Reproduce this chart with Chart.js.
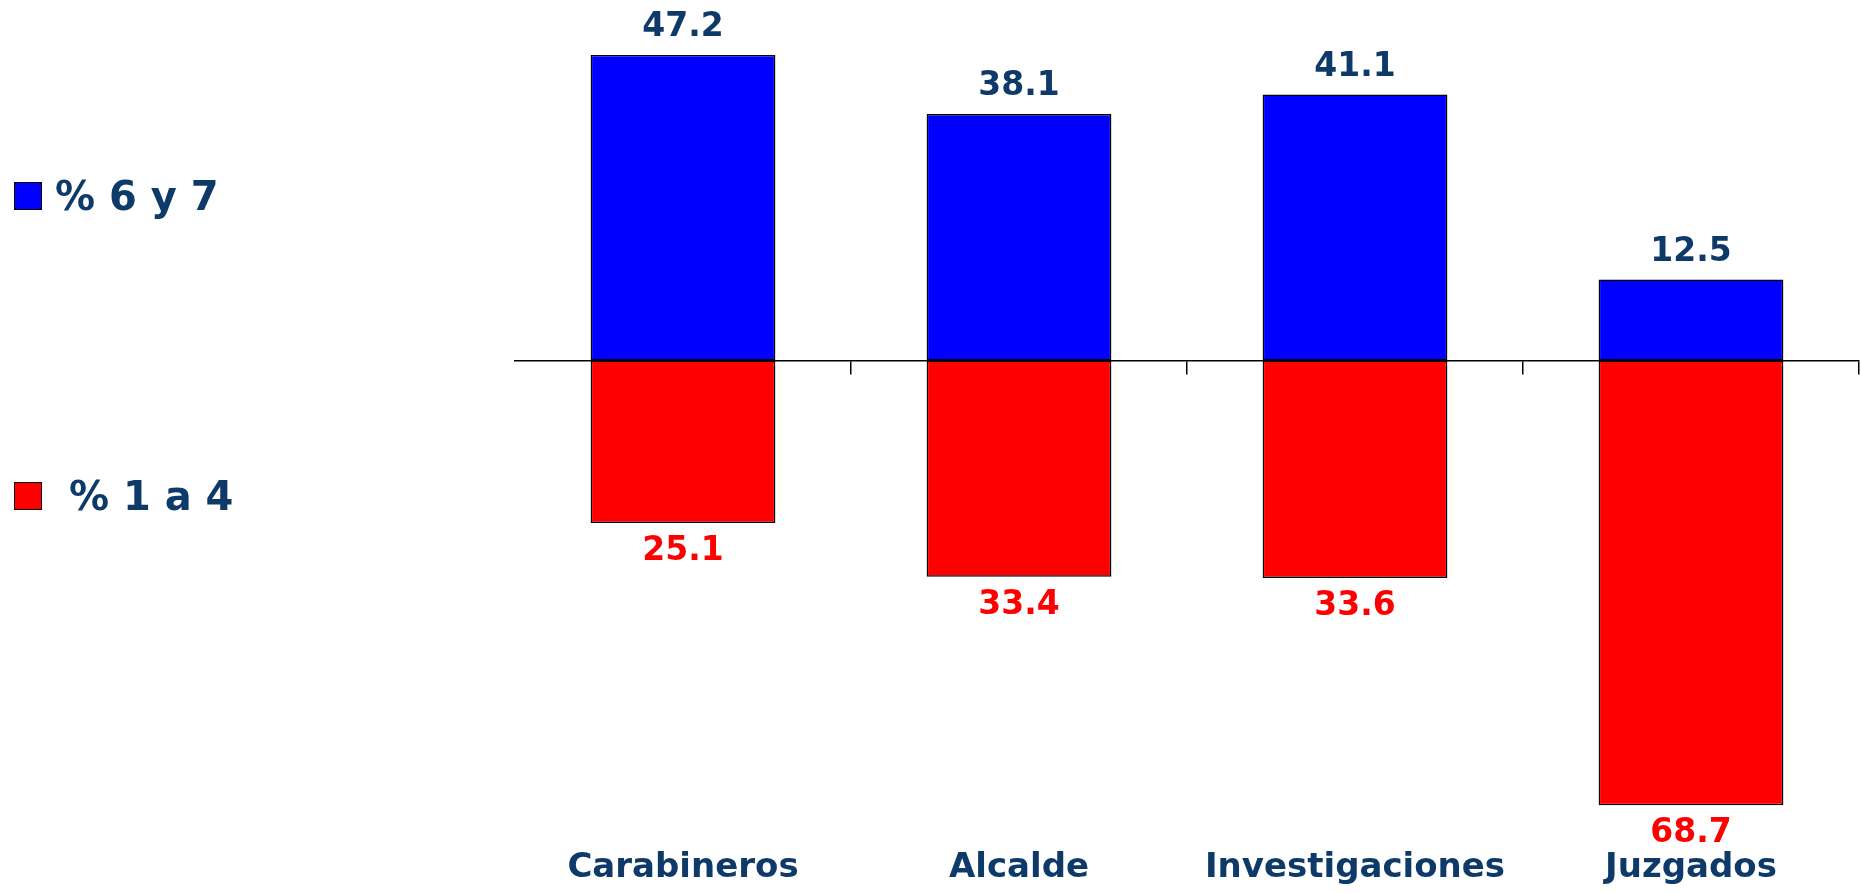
<!DOCTYPE html>
<html>
<head>
<meta charset="utf-8">
<script src="https://cdn.jsdelivr.net/npm/chart.js@4/dist/chart.umd.min.js"></script>
<style>
  html, body { margin: 0; padding: 0; background: #fff; }
  #wrap { position: relative; width: 1861px; height: 893px; }
  #legend { position: absolute; left: 14px; top: 0; font-family: "DejaVu Sans", sans-serif; font-weight: bold; font-size: 40px; color: #0e3a6a; }
  .item { position: absolute; left: 0; display: flex; align-items: center; white-space: pre; }
  .box { width: 26px; height: 26px; border: 1.5px solid #000; margin-right: 13px; }
</style>
</head>
<body>
<div id="wrap">
  <canvas id="barChart" width="1861" height="893"></canvas>
  <div id="legend"></div>
</div>
<script>
const categories = ["Carabineros", "Alcalde", "Investigaciones", "Juzgados"];
const highValues = [47.2, 38.1, 41.1, 12.5];   // % 6 y 7
const lowValues = [25.1, 33.4, 33.6, 68.7];    // % 1 a 4
const seriesLabels = ["% 6 y 7", " % 1 a 4"];
const seriesColors = ["#0000ff", "#ff0000"];
const labelColors = ["#0e3a6a", "#ff0000"];

const navy = "#0e3a6a";
const font = "DejaVu Sans";

// value labels above blue bars and below red bars
const valueLabels = {
  id: "valueLabels",
  afterDatasetsDraw(chart) {
    const ctx = chart.ctx;
    ctx.save();
    ctx.font = `bold 33px "${font}"`;
    ctx.textAlign = "center";
    chart.data.datasets.forEach((ds, i) => {
      const meta = chart.getDatasetMeta(i);
      meta.data.forEach((bar, j) => {
        const v = Math.abs(ds.data[j]).toFixed(1);
        ctx.fillStyle = labelColors[i];
        if (ds.data[j] >= 0) {
          ctx.textBaseline = "bottom";
          ctx.fillText(v, bar.x, bar.y - 11);
        } else {
          ctx.textBaseline = "top";
          ctx.fillText(v, bar.x, bar.y + 12);
        }
      });
    });
    ctx.restore();
  }
};

const ctx = document.getElementById("barChart").getContext("2d");
new Chart(ctx, {
  type: "bar",
  data: {
    labels: categories,
    datasets: [
      {
        label: seriesLabels[0],
        data: highValues,
        backgroundColor: seriesColors[0],
        borderColor: "#000",
        borderWidth: 1.5,
        borderSkipped: false,
      },
      {
        label: seriesLabels[1],
        data: lowValues.map(v => -v),
        backgroundColor: seriesColors[1],
        borderColor: "#000",
        borderWidth: 1.5,
        borderSkipped: false,
      },
    ],
  },
  options: {
    responsive: false,
    animation: false,
    layout: { padding: { top: 0, right: 2, bottom: 0, left: 0 } },
    datasets: { bar: { barPercentage: 0.55, categoryPercentage: 1 } },
    plugins: {
      legend: { display: false },
      tooltip: { enabled: false },
    },
    scales: {
      x: {
        stacked: true,
        position: { y: 0 },
        ticks: { display: false },
        grid: {
          drawOnChartArea: false,
          tickLength: 13,
          lineWidth: 1.5,
          color: c => (c.index === 0 ? "rgba(0,0,0,0)" : "#000"),
        },
        border: { color: "#000", width: 1.5 },
      },
      x2: {
        type: "category",
        labels: categories,
        position: "bottom",
        offset: true,
        grid: { display: false },
        border: { display: false },
        ticks: { color: navy, font: { family: font, weight: "bold", size: 34 }, padding: 4 },
      },
      y: {
        stacked: true,
        min: -73.5,
        max: 55.7,
        ticks: { display: false },
        grid: { display: false },
        border: { display: false },
        afterFit: s => { s.width = 515; },
      },
    },
  },
  plugins: [valueLabels],
});

// legend on the left, built from the series arrays
const legend = document.getElementById("legend");
const legendTops = [183, 483];
seriesLabels.forEach((name, i) => {
  const item = document.createElement("div");
  item.className = "item";
  item.style.top = (legendTops[i] - 10) + "px";
  const box = document.createElement("span");
  box.className = "box";
  box.style.background = seriesColors[i];
  const txt = document.createElement("span");
  txt.textContent = name;
  item.appendChild(box);
  item.appendChild(txt);
  legend.appendChild(item);
});
</script>
</body>
</html>
